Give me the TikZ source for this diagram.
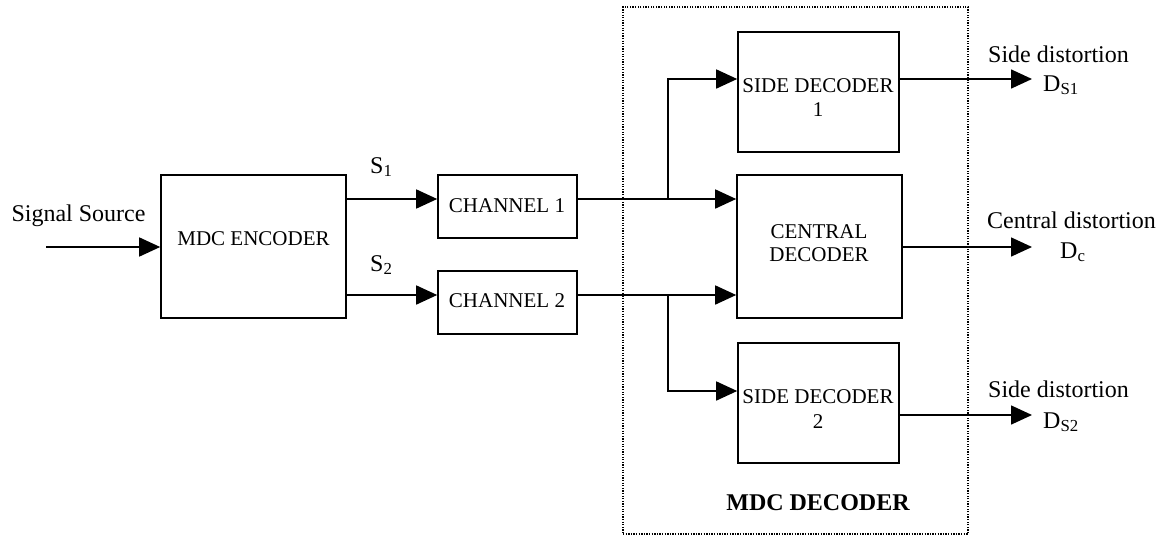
\documentclass[tikz,border=0pt]{standalone}
\usepackage{fontspec}
\setmainfont{Liberation Serif}
\usetikzlibrary{arrows.meta}
\begin{document}
\begin{tikzpicture}[x=1pt,y=-1pt,
  blk/.style={draw,line width=1.6pt,inner sep=0pt},
  frame/.style={draw,line width=1.3pt,dash pattern=on 1.3pt off 1.3pt,inner sep=0pt},
  boxtxt/.style={font=\fontsize{21}{25}\selectfont,anchor=base,inner sep=0pt},
  boldtxt/.style={font=\fontsize{24}{28}\selectfont\bfseries,anchor=base,inner sep=0pt},
  lbl/.style={font=\fontsize{24}{28}\selectfont,anchor=base west,inner sep=0pt},
  arr/.style={line width=1.6pt,-{Triangle[length=21pt,width=19pt]}}]
\useasboundingbox (0,0) rectangle (1164,536);

% decoder frame
\node[frame,minimum width=345pt,minimum height=527pt] (dec) at (795.5,270.5) {};

% blocks
\node[blk,minimum width=185pt,minimum height=143pt] (enc) at (253.5,246.5) {};
\node[blk,minimum width=139pt,minimum height=63pt] (ch1) at (507.5,206.5) {};
\node[blk,minimum width=139pt,minimum height=63pt] (ch2) at (507.5,302.5) {};
\node[blk,minimum width=161pt,minimum height=120pt] (sd1) at (818.5,92) {};
\node[blk,minimum width=165pt,minimum height=143pt] (cen) at (819.5,246.5) {};
\node[blk,minimum width=161pt,minimum height=120pt] (sd2) at (818.5,403) {};

% block texts
\node[boxtxt] (enct) at (253.5,245) {MDC ENCODER};
\node[boxtxt] (ch1t) at (507,212) {CHANNEL 1};
\node[boxtxt] (ch2t) at (507,307) {CHANNEL 2};
\node[boxtxt] (sd1a) at (818,92) {SIDE DECODER};
\node[boxtxt] (sd1b) at (818,116) {1};
\node[boxtxt] (cena) at (819,238) {CENTRAL};
\node[boxtxt] (cenb) at (819,261) {DECODER};
\node[boxtxt] (sd2a) at (818,403) {SIDE DECODER};
\node[boxtxt] (sd2b) at (818,428) {2};
\node[boldtxt] (dect) at (818,510) {MDC DECODER};

% signal labels
\node[lbl,anchor=base] (srct) at (78.5,221) {Signal Source};
\node[lbl] (s1t) at (370,173) {S\textsubscript{1}};
\node[lbl] (s2t) at (370,271) {S\textsubscript{2}};
\node[lbl] (d1a) at (988,62) {Side distortion};
\node[lbl] (d1b) at (1043,91) {D\textsubscript{S1}};
\node[lbl] (dca) at (987,228) {Central distortion};
\node[lbl] (dcb) at (1060,258) {D\textsubscript{c}};
\node[lbl] (d2a) at (988,397) {Side distortion};
\node[lbl] (d2b) at (1043,428) {D\textsubscript{S2}};

% routing points
\coordinate (src) at (46,247);
\coordinate (y1) at (0,199);
\coordinate (y2) at (0,295);
\coordinate (yd) at (0,391);
\coordinate (j1) at (668,199);
\coordinate (j2) at (668,295);
\coordinate (o1) at (1032,79);
\coordinate (oc) at (1032,247);
\coordinate (o2) at (1032,415);

% connectors
\draw[arr] (src) -- (enc.west |- src);
\draw[arr] (enc.east |- y1) -- (ch1.west |- y1);
\draw[arr] (enc.east |- y2) -- (ch2.west |- y2);
\draw[arr] (ch1.east |- y1) -- (cen.west |- y1);
\draw[arr] (ch2.east |- y2) -- (cen.west |- y2);
\draw[arr] (j1) |- (sd1.west |- o1);
\draw[arr] (j2) |- (sd2.west |- yd);
\draw[arr] (sd1.east |- o1) -- (o1);
\draw[arr] (cen.east |- oc) -- (oc);
\draw[arr] (sd2.east |- o2) -- (o2);
\end{tikzpicture}
\end{document}
